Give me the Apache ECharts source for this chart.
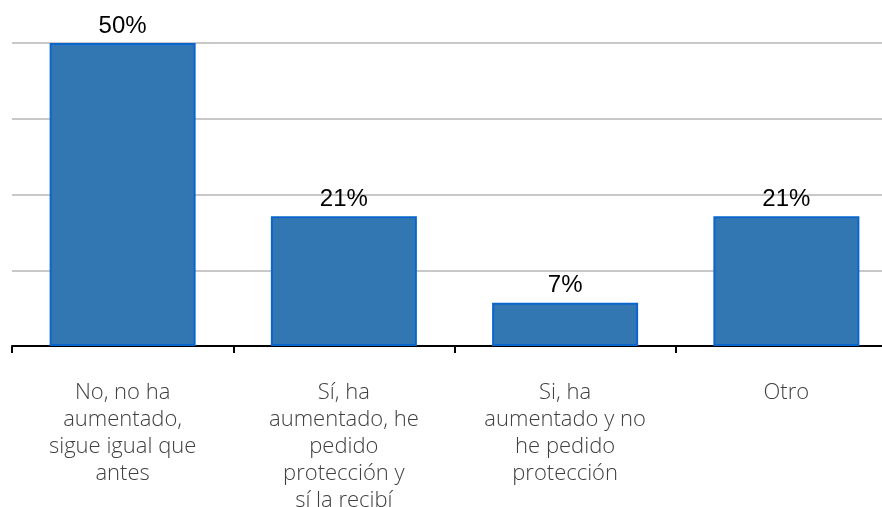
<!DOCTYPE html>
<html>
<head>
<meta charset="utf-8">
<script src="https://cdn.jsdelivr.net/npm/echarts@6/dist/echarts.min.js"></script>
<style>
  html, body { margin: 0; padding: 0; background: #fff; }
  #chart { width: 882px; height: 507px; }
</style>
</head>
<body>
<div id="chart"></div>
<script>
//categorias
var categories = [
    'No, no ha\naumentado,\nsigue igual que\nantes',
    'Sí, ha\naumentado, he\npedido\nprotección y\nsí la recibí',
    'Si, ha\naumentado y no\nhe pedido\nprotección',
    'Otro'
];
//porcentajes
var values = [50, 21.43, 7.14, 21.43];
//eje y (sin etiquetas)
var yMin = 0;
var yMax = 50;
var yStep = 12.5;

var chart = echarts.init(document.getElementById('chart'));
var option = {
    animation: false,
    grid: { left: 12, width: 885, top: 43, height: 303, outerBoundsMode: 'none', containLabel: false },
    xAxis: {
        type: 'category',
        data: categories,
        axisLine: { lineStyle: { color: '#000', width: 2 } },
        axisTick: { show: true, length: 7, lineStyle: { color: '#000', width: 2 } },
        axisLabel: {
            interval: 0,
            margin: 33,
            color: '#404040',
            fontFamily: 'Open Sans',
            fontWeight: 300,
            fontSize: 22,
            lineHeight: 27
        }
    },
    yAxis: {
        type: 'value',
        min: yMin,
        max: yMax,
        interval: yStep,
        axisLabel: { show: false },
        axisLine: { show: false },
        axisTick: { show: false },
        splitLine: { lineStyle: { color: '#c8c8c8', width: 2 } }
    },
    series: [{
        type: 'bar',
        data: values,
        barWidth: 146,
        itemStyle: { color: '#3277b2', borderColor: '#0a66cc', borderWidth: 2 },
        label: {
            show: true,
            position: 'top',
            distance: 5,
            color: '#000',
            fontFamily: 'Liberation Sans',
            fontSize: 24,
            formatter: function(p) { return Math.round(p.value) + '%'; }
        }
    }]
};
chart.setOption(option);
</script>
</body>
</html>
